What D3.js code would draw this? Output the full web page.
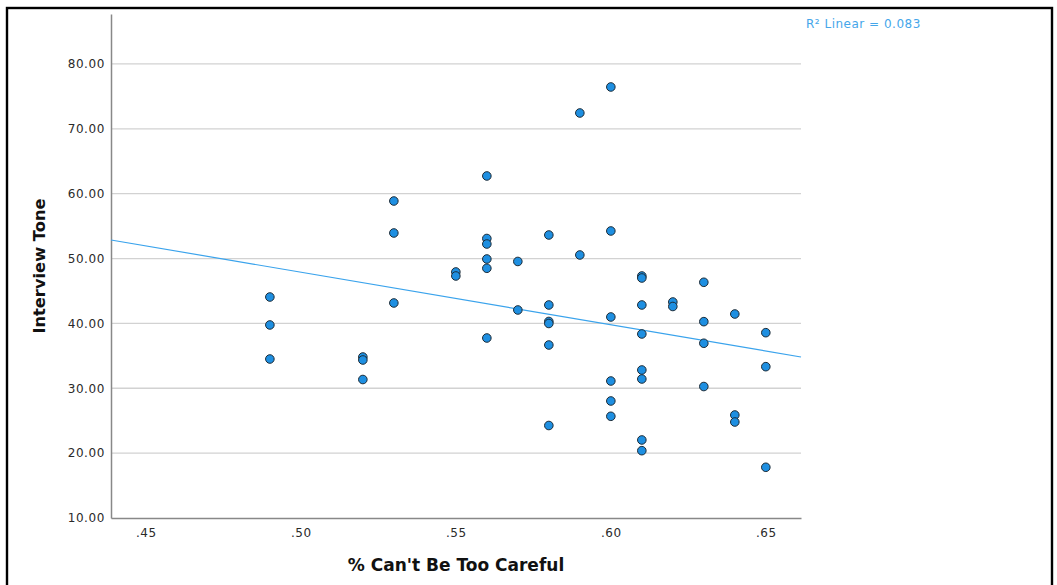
<!DOCTYPE html>
<html lang="en">
<head>
    <meta charset="UTF-8">
    <title>Interview Tone scatter</title>
    <script src="https://d3js.org/d3.v7.min.js"></script>
    <style>
        body { margin: 0; background: #fff; }
        text { font-family: "DejaVu Sans", sans-serif; }
        .tick-label { font-size: 12px; fill: #2a2a2a; }
        .axis-title { font-weight: bold; fill: #111; }
    </style>
</head>
<body>
<svg width="1057" height="585"></svg>
<script>
    // % Can't Be Too Careful (x) and Interview Tone (y)
    const careful = [
        .49, .49, .49,
        .52, .52, .52,
        .53, .53, .53,
        .55, .55,
        .56, .56, .56, .56, .56, .56,
        .57, .57,
        .58, .58, .58, .58, .58, .58,
        .59, .59,
        .60, .60, .60, .60, .60, .60,
        .61, .61, .61, .61, .61, .61, .61, .61,
        .62, .62,
        .63, .63, .63, .63,
        .64, .64, .64,
        .65, .65, .65
    ];
    const tone = [
        44.07, 39.76, 34.51,
        34.82, 34.36, 31.35,
        58.87, 53.94, 43.15,
        47.93, 47.31,
        62.73, 53.09, 52.24, 49.93, 48.50, 37.75,
        49.55, 42.07,
        53.63, 42.84, 40.30, 39.99, 36.67, 24.26,
        72.44, 50.55,
        76.45, 54.25, 40.99, 31.12, 28.04, 25.68,
        47.31, 47.00, 42.84, 38.37, 32.82, 31.43, 22.03, 20.38,
        43.30, 42.61,
        46.34, 40.27, 36.94, 30.27,
        41.45, 25.88, 24.80,
        38.57, 33.33, 17.82
    ];
    // fitted linear line as drawn (value at each end of the x range)
    const fitX = [0.43875, 0.66135];
    const fitY = [52.86, 34.82];
    const xTicks = [.45, .50, .55, .60, .65];
    const yTicks = [10, 20, 30, 40, 50, 60, 70, 80];
    const r2Label = "R\u00B2 Linear = 0.083";

    const points = careful.map((c, i) => ({x: c, y: tone[i]}));

    const svg = d3.select("svg");
    const plot = {left: 111, right: 801, top: 14, bottom: 518};

    const x = d3.scaleLinear().domain(fitX).range([plot.left, plot.right]);
    const y = d3.scaleLinear().domain([10, 87.7]).range([plot.bottom, plot.top]);

    // outer frame
    svg.append("rect")
        .attr("x", 7).attr("y", 8)
        .attr("width", 1045).attr("height", 600)
        .attr("fill", "none")
        .attr("stroke", "#000")
        .attr("stroke-width", 2.4);

    // horizontal grid lines
    svg.append("g")
        .selectAll("line")
        .data(yTicks.filter(d => d > 10))
        .join("line")
        .attr("x1", plot.left).attr("x2", plot.right)
        .attr("y1", d => y(d)).attr("y2", d => y(d))
        .attr("stroke", "#d2d2d2")
        .attr("stroke-width", 1.3);

    // axes (no tick marks, labels only)
    const yAxis = svg.append("g")
        .attr("transform", `translate(${plot.left},0)`)
        .call(d3.axisLeft(y).tickValues(yTicks).tickSize(0).tickPadding(6).tickFormat(d3.format(".2f")));
    const xAxis = svg.append("g")
        .attr("transform", `translate(0,${plot.bottom})`)
        .call(d3.axisBottom(x).tickValues(xTicks).tickSize(0).tickPadding(10)
            .tickFormat(d => d3.format(".2f")(d).replace(/^0/, "")));

    [xAxis, yAxis].forEach(a => {
        a.attr("font-family", null).attr("font-size", null);
        a.select(".domain").attr("stroke", "#888").attr("stroke-width", 1.5);
        a.selectAll("text").attr("class", "tick-label").attr("fill", null)
            .style("letter-spacing", "0.6px");
    });

    // fit line
    const line = d3.line().x(d => x(d[0])).y(d => y(d[1]));
    svg.append("path")
        .datum(d3.zip(fitX, fitY))
        .attr("d", line)
        .attr("fill", "none")
        .attr("stroke", "#3aa3ec")
        .attr("stroke-width", 1.2);

    // points
    svg.append("g")
        .selectAll("circle")
        .data(points)
        .join("circle")
        .attr("cx", d => x(d.x))
        .attr("cy", d => y(d.y))
        .attr("r", 4.3)
        .attr("fill", "#1e8fe1")
        .attr("stroke", "#1b2a36")
        .attr("stroke-width", 1);

    // R² label
    svg.append("text")
        .attr("x", 806).attr("y", 28)
        .attr("font-size", 12)
        .attr("fill", "#45a6ea")
        .style("letter-spacing", "0.5px")
        .text(r2Label);

    // axis titles
    svg.append("text")
        .attr("class", "axis-title")
        .attr("font-size", 17)
        .attr("x", 456).attr("y", 571)
        .attr("text-anchor", "middle")
        .text("% Can't Be Too Careful");
    svg.append("text")
        .attr("class", "axis-title")
        .attr("font-size", 16.3)
        .attr("transform", "translate(45,266) rotate(-90)")
        .attr("text-anchor", "middle")
        .text("Interview Tone");
</script>
</body>
</html>
